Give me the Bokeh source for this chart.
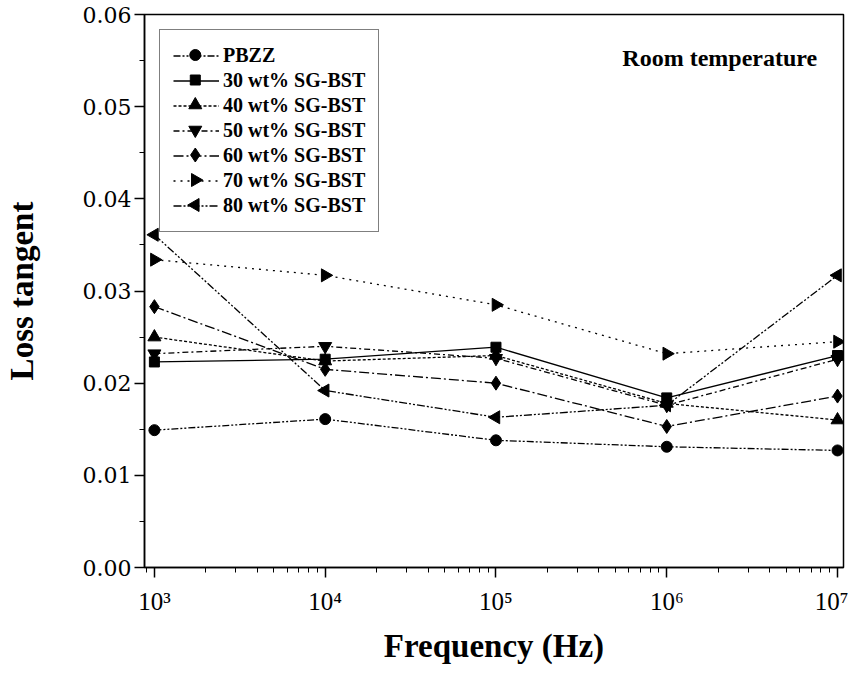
import numpy as np
from bokeh.plotting import figure
from bokeh.models import (Range1d, SingleIntervalTicker, NumeralTickFormatter,
                          Legend, LegendItem, Label, LogTicker, LinearScale)
from bokeh.embed import file_html
from bokeh.resources import INLINE

freq = [1e3, 1e4, 1e5, 1e6, 1e7]
labels = ["PBZZ", "30 wt% SG-BST", "40 wt% SG-BST", "50 wt% SG-BST",
          "60 wt% SG-BST", "70 wt% SG-BST", "80 wt% SG-BST"]
pbzz = [0.0149, 0.0161, 0.0138, 0.0131, 0.0127]
bst30 = [0.0223, 0.0226, 0.0239, 0.0184, 0.0230]
bst40 = [0.0250, 0.0224, 0.0230, 0.0178, 0.0160]
bst50 = [0.0232, 0.0240, 0.0227, 0.0176, 0.0226]
bst60 = [0.0283, 0.0215, 0.0200, 0.0153, 0.0186]
bst70 = [0.0334, 0.0317, 0.0285, 0.0232, 0.0245]
bst80 = [0.0361, 0.0192, 0.0163, 0.0176, 0.0317]
series = [pbzz, bst30, bst40, bst50, bst60, bst70, bst80]
x_ticks = [1e3, 1e4, 1e5, 1e6, 1e7]
x_tick_labels = ["10³", "10⁴", "10⁵", "10⁶", "10⁷"]

markers = ["circle", "square", "triangle", "inverted_triangle", "diamond", "triangle", "triangle"]
angles = [0, 0, 0, 0, 0, -np.pi / 2, np.pi / 2]
sizes = [11, 10, 13, 13, 14, 13, 13]
dashes = ["7 2 2 2 2 2", "solid", "3 2", "6 3 2 3", "10 3 2 3", "2 5", "8 2 2 2 2 2"]

W, H = 848, 666
BL, BR, BT, BB = 141, 5, 14, 99
FW, FH = W - BL - BR, H - BT - BB

p = figure(width=W, height=H, x_axis_type="log", output_backend="svg", toolbar_location=None,
           x_range=Range1d(10 ** 2.942, 10 ** 7.035), y_range=Range1d(0, 0.06),
           min_border_left=BL, min_border_right=BR, min_border_top=BT, min_border_bottom=BB)
p.extra_x_ranges = {"px": Range1d(0, FW)}
p.extra_y_ranges = {"py": Range1d(0, FH)}
p.extra_x_scales = {"px": LinearScale()}
p.extra_y_scales = {"py": LinearScale()}
p.grid.visible = False
p.outline_line_color = "black"
p.outline_line_width = 1.5
p.background_fill_color = "white"
p.border_fill_color = "white"

# legend layout (screen px)
LEG_MARGIN, LEG_PAD, GLYPH_W, ITEM_H = 15, 13, 46, 25

items = []
for lab, ys, m, a, s, d in zip(labels, series, markers, angles, sizes, dashes):
    r1 = p.line(freq, ys, line_color="black", line_width=1.3, line_dash=d)
    p.scatter(freq, ys, marker=m, angle=a, size=s, fill_color="black", line_color="black")
    items.append(LegendItem(label=lab, renderers=[r1]))

leg = Legend(items=items, location="top_left", margin=LEG_MARGIN, padding=LEG_PAD, spacing=0,
             glyph_width=GLYPH_W, glyph_height=ITEM_H, label_height=ITEM_H, label_standoff=4,
             label_text_font="Liberation Serif", label_text_font_style="bold",
             label_text_font_size="20px", label_text_color="black",
             border_line_color="black", border_line_width=1.5,
             background_fill_alpha=0.0)
p.add_layout(leg)

# legend sample markers, placed at the legend glyph centres
n = len(labels)
leg_x = [LEG_MARGIN + LEG_PAD + GLYPH_W / 2] * n
leg_y = [FH - (LEG_MARGIN + LEG_PAD + ITEM_H * (i + 0.5)) for i in range(n)]
for i in range(n):
    p.scatter([leg_x[i]], [leg_y[i]], marker=markers[i], angle=angles[i], size=sizes[i],
              fill_color="black", line_color="black", x_range_name="px", y_range_name="py")

p.xaxis.ticker = LogTicker(desired_num_ticks=5, num_minor_ticks=10)
p.xaxis.major_label_overrides = {t: l for t, l in zip(x_ticks, x_tick_labels)}
p.xaxis.major_label_text_font = "Liberation Serif"
p.xaxis.major_label_text_font_size = "25px"
p.xaxis.major_label_text_line_height = 1.0
p.xaxis.major_label_standoff = 10
p.xaxis.axis_label = "Frequency (Hz)"
p.xaxis.axis_label_text_font = "Liberation Serif"
p.xaxis.axis_label_text_font_style = "bold"
p.xaxis.axis_label_text_font_size = "33px"
p.xaxis.axis_label_text_line_height = 1.0
p.xaxis.axis_label_standoff = 10

p.yaxis.ticker = SingleIntervalTicker(interval=0.01, num_minor_ticks=2)
p.yaxis.formatter = NumeralTickFormatter(format="0.00")
p.yaxis.major_label_text_font = "DejaVu Serif"
p.yaxis.major_label_text_font_size = "22px"
p.yaxis.major_label_standoff = 3
p.yaxis.axis_label = "Loss tangent"
p.yaxis.axis_label_text_font = "Liberation Serif"
p.yaxis.axis_label_text_font_style = "bold"
p.yaxis.axis_label_text_font_size = "33px"
p.yaxis.axis_label_standoff = 40

for ax in (p.xaxis[0], p.yaxis[0]):
    ax.axis_line_width = 1.5
    ax.major_tick_line_width = 1.5
    ax.major_tick_out = 10
    ax.major_tick_in = 0
    ax.minor_tick_out = 5
    ax.minor_tick_in = 0
    ax.major_label_text_color = "black"
    ax.axis_label_text_color = "black"

p.add_layout(Label(x=10 ** 5.74, y=0.0553, text="Room temperature", text_font="Liberation Serif",
                   text_font_style="bold", text_font_size="24px", text_color="black",
                   text_baseline="alphabetic", text_align="left"))

open("out.html", "w").write(file_html(p, INLINE))
